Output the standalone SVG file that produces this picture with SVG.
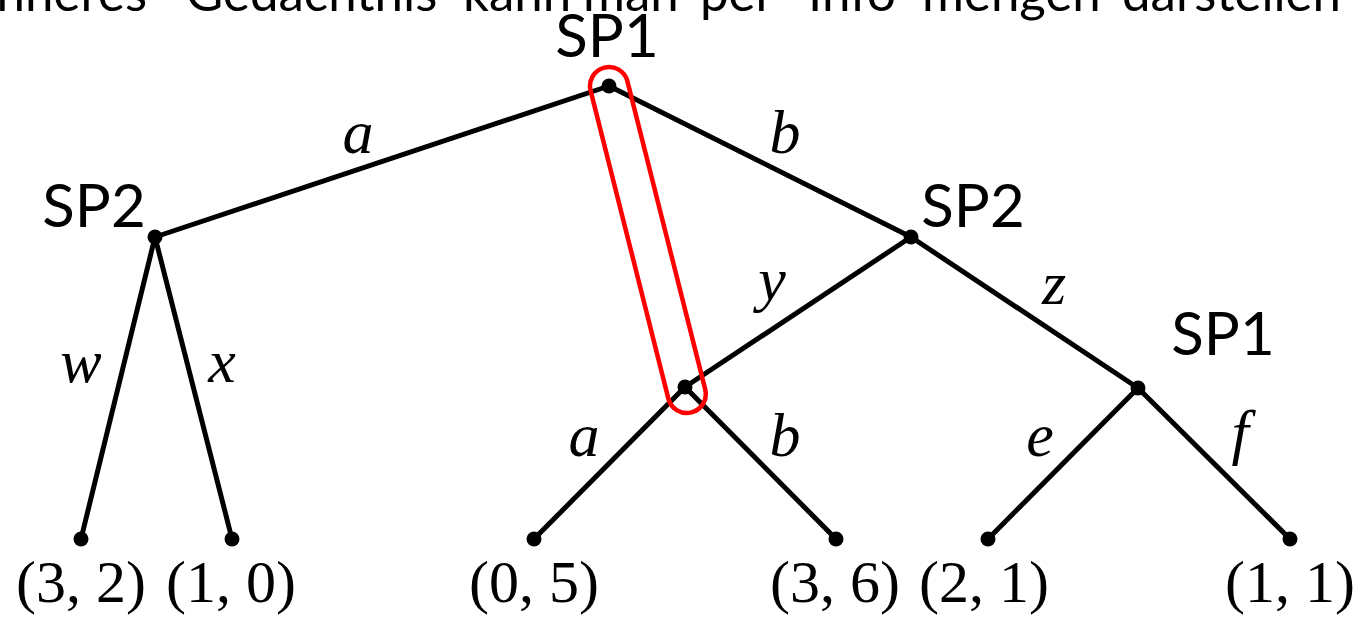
<svg xmlns="http://www.w3.org/2000/svg" width="1355" height="619" viewBox="0 0 1355 619">
<style>
.edge{stroke:#000;stroke-width:5;stroke-linecap:round;fill:none}
.dot{fill:#000}
.sp{font-family:Lato,"Liberation Sans",Arial,sans-serif;font-size:60px;fill:#000;text-anchor:middle}
.top{font-family:Lato,"Liberation Sans",Arial,sans-serif;font-size:51px;fill:#000}
.lbl{font-family:"Liberation Serif","Times New Roman",serif;font-style:italic;font-size:62px;fill:#000;text-anchor:middle}
.pay{font-family:"Liberation Serif","Times New Roman",serif;font-size:60px;fill:#000;text-anchor:middle}
.info{fill:none;stroke:#ff0000;stroke-width:4.5}
</style>
<g id="title">
<text class="top" x="147" y="11" text-anchor="end">Inneres</text>
<text class="top" x="186" y="11">Gedächtnis</text>
<text class="top" x="463" y="11">kann</text>
<text class="top" x="583" y="11">man</text>
<text class="top" x="700" y="11">per</text>
<text class="top" x="808" y="11">Info</text>
<text class="top" x="922" y="11">mengen</text>
<text class="top" x="1122" y="11">darstellen</text>
</g>
<g id="connectors">
<line class="edge" x1="609" y1="86" x2="155" y2="237"/>
<line class="edge" x1="609" y1="86" x2="911" y2="237"/>
<line class="edge" x1="155" y1="237" x2="81" y2="539"/>
<line class="edge" x1="155" y1="237" x2="232" y2="539"/>
<line class="edge" x1="911" y1="237" x2="685" y2="387"/>
<line class="edge" x1="911" y1="237" x2="1138" y2="388"/>
<line class="edge" x1="685" y1="387" x2="534" y2="539"/>
<line class="edge" x1="685" y1="387" x2="836" y2="539"/>
<line class="edge" x1="1138" y1="388" x2="988" y2="539"/>
<line class="edge" x1="1138" y1="388" x2="1290" y2="539"/>
</g>
<g id="edge-labels">
<text class="lbl" x="358" y="153">a</text>
<text class="lbl" x="785" y="153">b</text>
<text class="lbl" x="81" y="382">w</text>
<text class="lbl" x="222" y="382">x</text>
<text class="lbl" x="772" y="300">y</text>
<text class="lbl" x="1054" y="304">z</text>
<text class="lbl" x="584" y="456">a</text>
<text class="lbl" x="785" y="456">b</text>
<text class="lbl" x="1040" y="456">e</text>
<text class="lbl" x="1240" y="453">f</text>
</g>
<g id="info-set">
<rect class="info" transform="translate(647.9,240) rotate(75.83)" x="-177.85" y="-19" width="355.7" height="38" rx="19"/>
</g>
<g id="n-root"><circle class="dot" cx="609" cy="86" r="7.5"/><text class="sp" x="607" y="57">SP1</text></g>
<g id="n-sp2-left"><circle class="dot" cx="155" cy="237" r="7.5"/><text class="sp" x="94" y="227">SP2</text></g>
<g id="n-sp2-right"><circle class="dot" cx="911" cy="237" r="7.5"/><text class="sp" x="973" y="227">SP2</text></g>
<g id="n-mid"><circle class="dot" cx="685" cy="387" r="7.5"/></g>
<g id="n-sp1-right"><circle class="dot" cx="1138" cy="388" r="7.5"/><text class="sp" x="1223" y="355">SP1</text></g>
<g id="leaf-1"><circle class="dot" cx="81" cy="539" r="7.5"/><text class="pay" x="81" y="602">(3, 2)</text></g>
<g id="leaf-2"><circle class="dot" cx="232" cy="539" r="7.5"/><text class="pay" x="231" y="602">(1, 0)</text></g>
<g id="leaf-3"><circle class="dot" cx="534" cy="539" r="7.5"/><text class="pay" x="534" y="602">(0, 5)</text></g>
<g id="leaf-4"><circle class="dot" cx="836" cy="539" r="7.5"/><text class="pay" x="835" y="602">(3, 6)</text></g>
<g id="leaf-5"><circle class="dot" cx="988" cy="539" r="7.5"/><text class="pay" x="984" y="602">(2, 1)</text></g>
<g id="leaf-6"><circle class="dot" cx="1290" cy="539" r="7.5"/><text class="pay" x="1290" y="602">(1, 1)</text></g>
</svg>
